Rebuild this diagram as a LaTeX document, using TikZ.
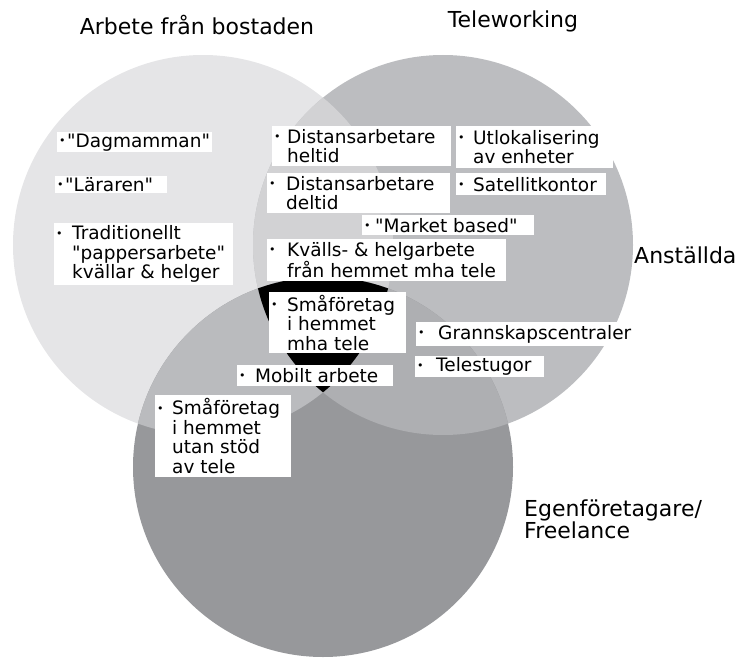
\documentclass[tikz,border=0pt]{standalone}
\usepackage{fontspec}
\setmainfont{DejaVu Sans}[Ligatures=TeXOff]
\definecolor{cL}{HTML}{E5E5E7}
\definecolor{cR}{HTML}{BCBDC0}
\definecolor{cB}{HTML}{97989B}
\definecolor{cLR}{HTML}{D2D2D4}
\definecolor{cLB}{HTML}{BABBBE}
\definecolor{cRB}{HTML}{AEAFB2}
\newcommand\bul[1]{\makebox[#1pt][l]{\raisebox{2.6pt}{\fontsize{11}{11}\selectfont •}}}
\newcommand\ind[1]{\hspace*{#1pt}}
\newcommand\qq{\char34\relax}
\newcommand\bx[6]{%
  \pgfmathsetmacro\bxw{#4-#2}%
  \pgfmathsetmacro\bxh{#5-#3}%
  \node[box,minimum width=\bxw pt,minimum height=\bxh pt] (#1) at (#2,#3) {};
  \node[txt] (#1-t) at ([xshift=2pt]#1.west) {#6};}
\begin{document}
\begin{tikzpicture}[x=1pt,y=-1pt,
  box/.style={fill=white, inner sep=0pt, anchor=north west},
  txt/.style={inner sep=0pt, anchor=west, align=left, font=\fontsize{18.5}{19.5}\selectfont},
  title/.style={inner sep=0pt, align=left, font=\fontsize{22}{22}\selectfont}]
\useasboundingbox (0,0) rectangle (752,658);
% circles
\coordinate (L) at (203,245);
\coordinate (R) at (443,245);
\coordinate (B) at (323,467);
\fill[cL] (L) circle (190pt);
\fill[cR] (R) circle (190pt);
\fill[cB] (B) circle (190pt);
\begin{scope}
  \clip (L) circle (190pt);
  \fill[cLR] (R) circle (190pt);
  \fill[cLB] (B) circle (190pt);
\end{scope}
\begin{scope}
  \clip (R) circle (190pt);
  \fill[cRB] (B) circle (190pt);
\end{scope}
\begin{scope}
  \clip (L) circle (190pt);
  \clip (R) circle (190pt);
  \fill[black] (B) circle (190pt);
\end{scope}
% titles
\node[title, anchor=center] (tL) at (197,25) {Arbete från bostaden};
\node[title, anchor=center] (tR) at (513,21) {Teleworking};
\node[title, anchor=west] (tA) at (634,255) {Anställda};
\node[title, anchor=north west] (tE) at (524,500) {Egenföretagare/\\Freelance};
% boxes
\bx{dag}{57}{132}{212}{152}{\bul{8}\qq Dagmamman\qq}
\bx{lar}{55}{176}{167}{193}{\bul{8}\qq Läraren\qq}
\bx{trad}{54}{223}{233}{285}{\bul{16}Traditionellt\\\ind{16}\qq pappersarbete\qq\\\ind{16}kvällar \& helger}
\bx{dh}{272}{126}{451}{166}{\bul{13}Distansarbetare\\\ind{13}heltid}
\bx{utl}{456}{126}{613}{168}{\bul{15}Utlokalisering\\\ind{15}av enheter}
\bx{dd}{267}{173}{450}{213}{\bul{17}Distansarbetare\\\ind{17}deltid}
\bx{sat}{456}{173}{606}{195}{\bul{15}Satellitkontor}
\bx{mkt}{362}{215}{534}{235}{\bul{11}\qq Market based\qq}
\bx{kv}{267}{239}{506}{281}{\bul{18}Kvälls- \& helgarbete\\\ind{18}från hemmet mha tele}
\bx{smt}{269}{292}{406}{353}{\bul{16}Småföretag\\\ind{16}i hemmet\\\ind{16}mha tele}
\bx{mob}{237}{365}{393}{386}{\bul{16}Mobilt arbete}
\bx{gr}{416}{322}{634}{346}{\bul{20}Grannskapscentraler}
\bx{tel}{415}{356}{544}{377}{\bul{19}Telestugor}
\bx{smu}{155}{395}{291}{477}{\bul{15}Småföretag\\\ind{15}i hemmet\\\ind{15}utan stöd\\\ind{15}av tele}
\end{tikzpicture}
\end{document}
